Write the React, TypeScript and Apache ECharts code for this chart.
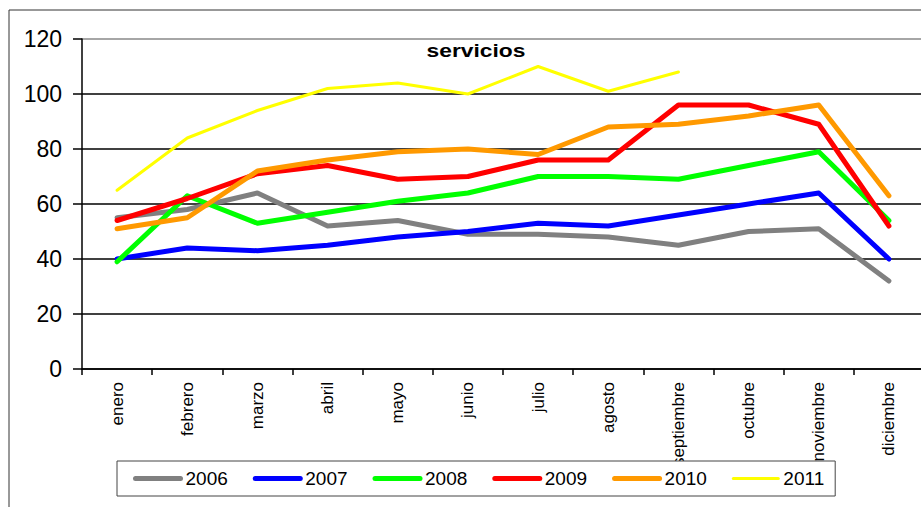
import React, { useEffect, useRef } from "react";
import * as echarts from "echarts";

const months = ["enero", "febrero", "marzo", "abril", "mayo", "junio", "julio", "agosto", "septiembre", "octubre", "noviembre", "diciembre"];
const years = ["2006", "2007", "2008", "2009", "2010", "2011"];
const y2006 = [55, 58, 64, 52, 54, 49, 49, 48, 45, 50, 51, 32];
const y2007 = [40, 44, 43, 45, 48, 50, 53, 52, 56, 60, 64, 40];
const y2008 = [39, 63, 53, 57, 61, 64, 70, 70, 69, 74, 79, 54];
const y2009 = [54, 62, 71, 74, 69, 70, 76, 76, 96, 96, 89, 52];
const y2010 = [51, 55, 72, 76, 79, 80, 78, 88, 89, 92, 96, 63];
const y2011 = [65, 84, 94, 102, 104, 100, 110, 101, 108];
const yTicks = [0, 20, 40, 60, 80, 100, 120];

const seriesValues = [y2006, y2007, y2008, y2009, y2010, y2011];
const colors = ["#808080", "#0000FF", "#00FF00", "#FF0000", "#FF9900", "#FFFF00"];
const widths = [5, 5, 5, 5, 5, 3];
const FONT = '"Liberation Sans", Arial, sans-serif';

export default function App() {
  const ref = useRef<HTMLDivElement>(null);
  useEffect(() => {
    if (!ref.current) return;
    const chart = echarts.init(ref.current, undefined, { renderer: "svg" });
    chart.setOption({
      animation: false,
      backgroundColor: "#fff",
      textStyle: { fontFamily: FONT },
      grid: {
        left: 82,
        top: 39,
        width: 842,
        height: 330,
        containLabel: false,
        outerBoundsMode: "none",
      },
      xAxis: {
        type: "category",
        data: months,
        boundaryGap: true,
        axisLine: { lineStyle: { color: "#000", width: 1.5 } },
        axisTick: { show: true, interval: 0, length: 6, lineStyle: { color: "#000", width: 1.5 } },
        axisLabel: {
          interval: 0,
          rotate: 90,
          margin: 13,
          fontSize: 17,
          color: "#000",
          fontFamily: FONT,
        },
        splitLine: { show: false },
      },
      yAxis: {
        type: "value",
        min: yTicks[0],
        max: yTicks[yTicks.length - 1],
        interval: 20,
        axisLine: { show: true, lineStyle: { color: "#000", width: 1.5 } },
        axisTick: { show: true, length: 9, lineStyle: { color: "#000", width: 1.5 } },
        axisLabel: { margin: 20, fontSize: 23, color: "#000", fontFamily: FONT },
        splitLine: {
          show: true,
          lineStyle: {
            color: ["#000", "#000", "#000", "#000", "#000", "#000", "#888"],
            width: 1.5,
          },
        },
      },
      legend: {
        left: 117,
        top: 461,
        orient: "horizontal",
        padding: [8, 11, 8, 16],
        itemGap: 25,
        itemWidth: 45,
        itemHeight: 20,
        backgroundColor: "#fff",
        borderColor: "#444",
        borderWidth: 1,
        itemStyle: { color: "rgba(0,0,0,0)", borderWidth: 0, opacity: 0 },
        data: years.map((name, i) => ({
          name,
          lineStyle: { color: colors[i], width: widths[i], cap: "round" },
        })),
        textStyle: { fontSize: 19, color: "#000", fontFamily: FONT },
        z: 10,
      },
      graphic: [
        {
          type: "rect",
          silent: true,
          z: 100,
          shape: { x: 9, y: 10, width: 1000, height: 600 },
          style: { fill: "none", stroke: "#333", lineWidth: 1 },
        },
        {
          type: "text",
          silent: true,
          z: 100,
          x: 476,
          y: 50,
          scaleX: 1.2,
          style: {
            text: "servicios",
            fontFamily: FONT,
            fontSize: 19,
            fontWeight: "bold",
            fill: "#000",
            align: "center",
            verticalAlign: "middle",
          },
        },
      ],
      series: years.map((name, i) => ({
        name,
        type: "line",
        data: seriesValues[i],
        symbol: "none",
        showSymbol: false,
        color: colors[i],
        lineStyle: { color: colors[i], width: widths[i], cap: "round", join: "round" },
        z: 2 + i,
      })),
    });
    return () => chart.dispose();
  }, []);
  return <div ref={ref} style={{ width: 921, height: 507, position: "absolute", left: 0, top: 0 }} />;
}
